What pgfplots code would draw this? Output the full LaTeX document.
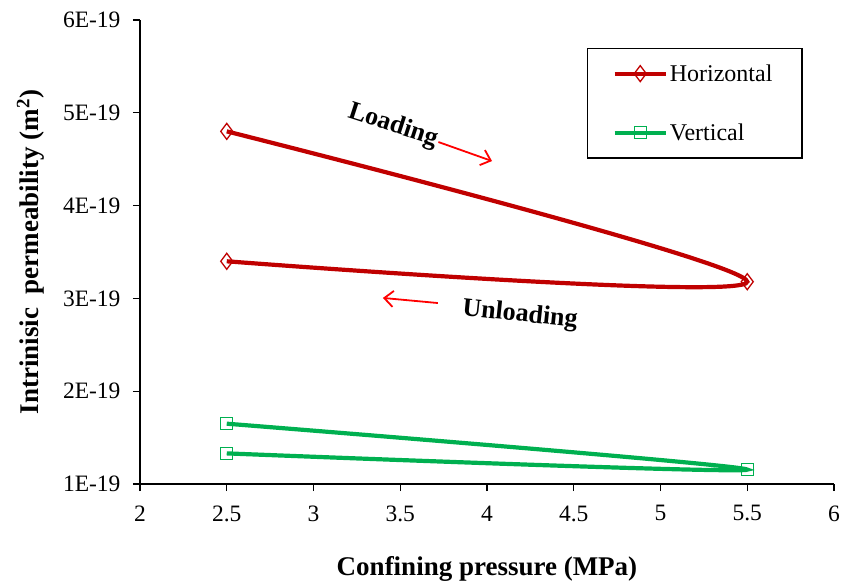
\documentclass[border=0pt]{standalone}
\usepackage{pgfplots}
\pgfplotsset{compat=1.18}
\usepackage{fontspec}
\setmainfont{Liberation Serif}
\usetikzlibrary{arrows.meta}
\definecolor{hred}{RGB}{192,0,0}
\definecolor{vgreen}{RGB}{0,176,80}
\begin{document}
\begin{tikzpicture}
\begin{axis}[
  name=ax,
  scale only axis, width=694pt, height=464pt,
  xmin=2, xmax=6, ymin=1, ymax=6,
  xtick={2,2.5,3,3.5,4,4.5,5,5.5,6},
  xticklabels={2,2.5,3,3.5,4,4.5,5,5.5,6},
  ytick={1,2,3,4,5,6},
  yticklabels={1E-19,2E-19,3E-19,4E-19,5E-19,6E-19},
  axis x line*=bottom, axis y line*=left,
  tick align=outside, major tick length=7pt,
  tick style={black, line width=1.2pt},
  axis line style={line width=1.4pt},
  ticklabel style={font=\fontsize{23.5}{26}\selectfont},
  xticklabel style={yshift=-11pt},
  yticklabel style={xshift=-9pt},
  xlabel={\textbf{Confining pressure (MPa)}},
  ylabel={\textbf{Intrinisic\ \ permeability (m\textsuperscript{2})}},
  label style={font=\fontsize{27}{30}\selectfont},
  xlabel style={yshift=-28pt},
  ylabel style={yshift=12pt},
  clip=false,
  legend cell align=left,
  legend image code/.code={
    \draw[mark repeat=2,mark phase=2,#1] plot coordinates {(0pt,0pt) (25.5pt,0pt) (51pt,0pt)};},
  legend style={at={(rel axis cs:0.644,0.94)}, anchor=north west,
    draw=black, line width=1.4pt, inner xsep=25pt, inner ysep=14pt,
    row sep=37pt, font=\fontsize{24}{26}\selectfont,
    text width=105pt},
]
\addplot[hred, line width=4.2pt, smooth, tension=0.55,
  mark=diamond, mark size=8pt,
  mark options={solid, line width=1.3pt, draw=hred, fill=none}]
  coordinates {(2.5,4.80) (5.5,3.18) (2.5,3.40)};
\addlegendentry{Horizontal}
\addplot[vgreen, line width=4.2pt, smooth, tension=0.55,
  mark=square, mark size=6pt,
  mark options={solid, line width=1.3pt, draw=vgreen, fill=none}]
  coordinates {(2.5,1.65) (5.5,1.155) (2.5,1.33)};
\addlegendentry{Vertical}

\node[rotate=-18, font=\fontsize{26}{28}\selectfont\bfseries] at (axis cs:3.458,4.858) {Loading};
\draw[red, line width=1.8pt, -{Straight Barb[length=9pt,width=16pt]}] (axis cs:3.72,4.685) -- (axis cs:4.029,4.48);
\node[rotate=-6, font=\fontsize{26}{28}\selectfont\bfseries] at (axis cs:4.19,2.82) {Unloading};
\draw[red, line width=1.8pt, -{Straight Barb[length=9pt,width=16pt]}] (axis cs:3.717,2.95) -- (axis cs:3.40,3.005);
\end{axis}
\path ([xshift=-140pt,yshift=-102pt]ax.south west) rectangle ([xshift=13pt,yshift=20pt]ax.north east);
\end{tikzpicture}
\end{document}
